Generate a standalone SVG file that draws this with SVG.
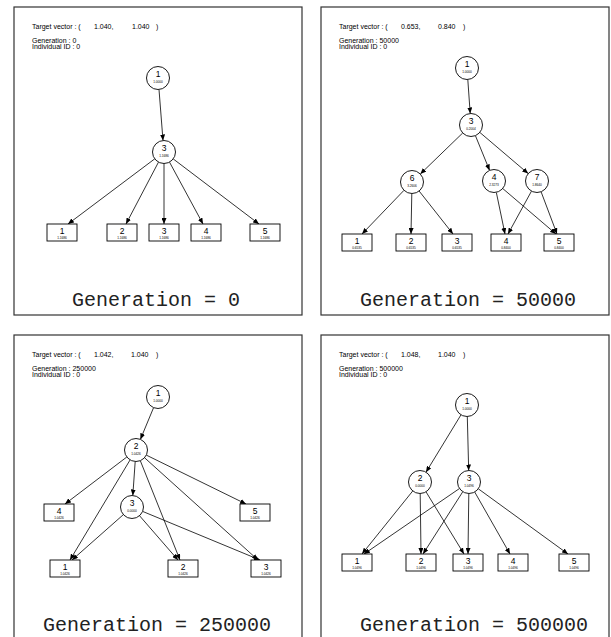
<svg xmlns="http://www.w3.org/2000/svg" width="611" height="637" viewBox="0 0 611 637">
<defs>
<marker id="ah" markerUnits="userSpaceOnUse" markerWidth="6" markerHeight="5" refX="6" refY="2.5" orient="auto">
<path d="M0,0 L6,2.5 L0,5 z" fill="#000"/>
</marker>
</defs>
<style>
.panel{fill:#fff;stroke:#333;stroke-width:1.2}
.hdr{font-family:"Liberation Sans",Arial,sans-serif;font-size:7px;fill:#000}
.gen{font-family:"Liberation Mono","Courier New",monospace;font-size:20px;fill:#222}
.nd circle{fill:#fff;stroke:#000;stroke-width:0.9}
.nd rect{fill:#fff;stroke:#000;stroke-width:0.9}
.num{font-family:"Liberation Sans",Arial,sans-serif;font-size:8.5px;text-anchor:middle;fill:#000}
.val{font-family:"Liberation Sans",Arial,sans-serif;font-size:3.2px;text-anchor:middle;fill:#000}
.edges line{stroke:#000;stroke-width:0.8;marker-end:url(#ah)}
</style>
<rect width="611" height="637" fill="#fff"/>

<!-- Panel TL -->
<g id="panel-gen0">
<rect class="panel" x="14" y="7" width="288" height="308"/>
<text class="hdr" x="32" y="28.7">Target vector : (</text>
<text class="hdr" x="94" y="28.7">1.040,</text>
<text class="hdr" x="132" y="28.7">1.040</text>
<text class="hdr" x="156" y="28.7">)</text>
<text class="hdr" x="32" y="43.3">Generation : 0</text>
<text class="hdr" x="32" y="49.3">Individual ID : 0</text>
<g class="edges" id="edges-gen0">
<line x1="159" y1="89.5" x2="163" y2="140.5"/>
<line x1="154.8" y1="158.8" x2="68" y2="224"/>
<line x1="158.5" y1="162.1" x2="126" y2="224"/>
<line x1="164" y1="163.5" x2="164" y2="224"/>
<line x1="169.5" y1="162.1" x2="203" y2="224"/>
<line x1="173.2" y1="158.9" x2="259" y2="224"/>
</g>
<g class="nd" id="g0-n1"><circle cx="158" cy="78" r="11.5"/><text class="num" x="158" y="77">1</text><text class="val" x="158" y="82.5">1.0000</text></g>
<g class="nd" id="g0-n3"><circle cx="164" cy="152" r="11.5"/><text class="num" x="164" y="151">3</text><text class="val" x="164" y="156.5">1.1686</text></g>
<g class="nd" id="g0-b1"><rect x="47" y="224" width="30" height="17"/><text class="num" x="62" y="234">1</text><text class="val" x="62" y="238.5">1.1686</text></g>
<g class="nd" id="g0-b2"><rect x="107" y="224" width="30" height="17"/><text class="num" x="122" y="234">2</text><text class="val" x="122" y="238.5">1.1686</text></g>
<g class="nd" id="g0-b3"><rect x="149" y="224" width="30" height="17"/><text class="num" x="164" y="234">3</text><text class="val" x="164" y="238.5">1.1686</text></g>
<g class="nd" id="g0-b4"><rect x="191" y="224" width="30" height="17"/><text class="num" x="206" y="234">4</text><text class="val" x="206" y="238.5">1.1686</text></g>
<g class="nd" id="g0-b5"><rect x="250" y="224" width="30" height="17"/><text class="num" x="265" y="234">5</text><text class="val" x="265" y="238.5">1.1686</text></g>
<text class="gen" x="72" y="306">Generation = 0</text>
</g>

<!-- Panel TR -->
<g id="panel-gen50000">
<rect class="panel" x="321" y="7" width="288" height="308"/>
<text class="hdr" x="339" y="28.7">Target vector : (</text>
<text class="hdr" x="401" y="28.7">0.653,</text>
<text class="hdr" x="438" y="28.7">0.840</text>
<text class="hdr" x="463" y="28.7">)</text>
<text class="hdr" x="339" y="43.3">Generation : 50000</text>
<text class="hdr" x="339" y="49.3">Individual ID : 0</text>
<g class="edges" id="edges-gen50000">
<line x1="467.8" y1="79.5" x2="470.2" y2="113.5"/>
<line x1="462.7" y1="133" x2="420.3" y2="174"/>
<line x1="475.4" y1="135.6" x2="489.6" y2="170.4"/>
<line x1="479.8" y1="132.4" x2="528.2" y2="173.6"/>
<line x1="404" y1="190.3" x2="362" y2="234"/>
<line x1="411.8" y1="193.5" x2="411" y2="234"/>
<line x1="419.1" y1="191" x2="453" y2="234"/>
<line x1="496.3" y1="192.3" x2="505" y2="234"/>
<line x1="502.7" y1="188.5" x2="556" y2="234"/>
<line x1="531.5" y1="191.1" x2="508" y2="234"/>
<line x1="541.1" y1="191.8" x2="557" y2="234"/>
</g>
<g class="nd" id="g1-n1"><circle cx="467" cy="68" r="11.5"/><text class="num" x="467" y="67">1</text><text class="val" x="467" y="72.5">1.0000</text></g>
<g class="nd" id="g1-n3"><circle cx="471" cy="125" r="11.5"/><text class="num" x="471" y="124">3</text><text class="val" x="471" y="129.5">0.2004</text></g>
<g class="nd" id="g1-n6"><circle cx="412" cy="182" r="11.5"/><text class="num" x="412" y="181">6</text><text class="val" x="412" y="186.5">3.2606</text></g>
<g class="nd" id="g1-n4"><circle cx="494" cy="181" r="11.5"/><text class="num" x="494" y="180">4</text><text class="val" x="494" y="185.5">2.3273</text></g>
<g class="nd" id="g1-n7"><circle cx="537" cy="181" r="11.5"/><text class="num" x="537" y="180">7</text><text class="val" x="537" y="185.5">1.8640</text></g>
<g class="nd" id="g1-b1"><rect x="342" y="234" width="30" height="17"/><text class="num" x="357" y="244">1</text><text class="val" x="357" y="248.5">0.6535</text></g>
<g class="nd" id="g1-b2"><rect x="396" y="234" width="30" height="17"/><text class="num" x="411" y="244">2</text><text class="val" x="411" y="248.5">0.6535</text></g>
<g class="nd" id="g1-b3"><rect x="442" y="234" width="30" height="17"/><text class="num" x="457" y="244">3</text><text class="val" x="457" y="248.5">0.6535</text></g>
<g class="nd" id="g1-b4"><rect x="491" y="234" width="30" height="17"/><text class="num" x="506" y="244">4</text><text class="val" x="506" y="248.5">0.8400</text></g>
<g class="nd" id="g1-b5"><rect x="544" y="234" width="30" height="17"/><text class="num" x="559" y="244">5</text><text class="val" x="559" y="248.5">0.8400</text></g>
<text class="gen" x="360" y="306">Generation = 50000</text>
</g>

<!-- Panel BL -->
<g id="panel-gen250000">
<rect class="panel" x="14" y="335" width="288" height="308"/>
<text class="hdr" x="32" y="356.7">Target vector : (</text>
<text class="hdr" x="94" y="356.7">1.042,</text>
<text class="hdr" x="131" y="356.7">1.040</text>
<text class="hdr" x="156" y="356.7">)</text>
<text class="hdr" x="32" y="371.3">Generation : 250000</text>
<text class="hdr" x="32" y="377.3">Individual ID : 0</text>
<g class="edges" id="edges-gen250000">
<line x1="153.6" y1="407.6" x2="140.4" y2="439.4"/>
<line x1="135.2" y1="461.5" x2="132.8" y2="495.5"/>
<line x1="126.8" y1="457" x2="65" y2="504"/>
<line x1="146.3" y1="455.1" x2="246" y2="504"/>
<line x1="130.1" y1="459.9" x2="70" y2="560"/>
<line x1="140.3" y1="460.7" x2="180" y2="560"/>
<line x1="144.5" y1="457.7" x2="258" y2="560"/>
<line x1="123.4" y1="514.6" x2="72" y2="560"/>
<line x1="139.5" y1="515.7" x2="178" y2="560"/>
<line x1="142.6" y1="511.4" x2="260" y2="560"/>
</g>
<g class="nd" id="g2-n1"><circle cx="158" cy="397" r="11.5"/><text class="num" x="158" y="396">1</text><text class="val" x="158" y="401.5">1.0000</text></g>
<g class="nd" id="g2-n2"><circle cx="136" cy="450" r="11.5"/><text class="num" x="136" y="449">2</text><text class="val" x="136" y="454.5">1.0426</text></g>
<g class="nd" id="g2-n3"><circle cx="132" cy="507" r="11.5"/><text class="num" x="132" y="506">3</text><text class="val" x="132" y="511.5">0.0000</text></g>
<g class="nd" id="g2-b4"><rect x="44" y="504" width="30" height="17"/><text class="num" x="59" y="514">4</text><text class="val" x="59" y="518.5">1.0426</text></g>
<g class="nd" id="g2-b5"><rect x="240" y="504" width="30" height="17"/><text class="num" x="255" y="514">5</text><text class="val" x="255" y="518.5">1.0426</text></g>
<g class="nd" id="g2-b1"><rect x="50" y="560" width="30" height="17"/><text class="num" x="65" y="570">1</text><text class="val" x="65" y="574.5">1.0426</text></g>
<g class="nd" id="g2-b2"><rect x="168" y="560" width="30" height="17"/><text class="num" x="183" y="570">2</text><text class="val" x="183" y="574.5">1.0426</text></g>
<g class="nd" id="g2-b3"><rect x="251" y="560" width="30" height="17"/><text class="num" x="266" y="570">3</text><text class="val" x="266" y="574.5">1.0426</text></g>
<text class="gen" x="43" y="631">Generation = 250000</text>
</g>

<!-- Panel BR -->
<g id="panel-gen500000">
<rect class="panel" x="321" y="335" width="288" height="308"/>
<text class="hdr" x="339" y="356.7">Target vector : (</text>
<text class="hdr" x="401" y="356.7">1.048,</text>
<text class="hdr" x="438" y="356.7">1.040</text>
<text class="hdr" x="463" y="356.7">)</text>
<text class="hdr" x="339" y="371.3">Generation : 500000</text>
<text class="hdr" x="339" y="377.3">Individual ID : 0</text>
<g class="edges" id="edges-gen500000">
<line x1="461" y1="414.8" x2="426" y2="472.2"/>
<line x1="467.3" y1="416.5" x2="468.7" y2="470.5"/>
<line x1="412.8" y1="490.9" x2="362" y2="554"/>
<line x1="420.2" y1="493.5" x2="421" y2="554"/>
<line x1="426" y1="491.8" x2="464" y2="554"/>
<line x1="459.5" y1="488.5" x2="364" y2="554"/>
<line x1="462.8" y1="491.7" x2="423" y2="554"/>
<line x1="468.8" y1="493.5" x2="468" y2="554"/>
<line x1="474.7" y1="492" x2="510" y2="554"/>
<line x1="478.3" y1="488.8" x2="568" y2="554"/>
</g>
<g class="nd" id="g3-n1"><circle cx="467" cy="405" r="11.5"/><text class="num" x="467" y="404">1</text><text class="val" x="467" y="409.5">1.0000</text></g>
<g class="nd" id="g3-n2"><circle cx="420" cy="482" r="11.5"/><text class="num" x="420" y="481">2</text><text class="val" x="420" y="486.5">0.0000</text></g>
<g class="nd" id="g3-n3"><circle cx="469" cy="482" r="11.5"/><text class="num" x="469" y="481">3</text><text class="val" x="469" y="486.5">1.0496</text></g>
<g class="nd" id="g3-b1"><rect x="342" y="554" width="30" height="17"/><text class="num" x="357" y="564">1</text><text class="val" x="357" y="568.5">1.0496</text></g>
<g class="nd" id="g3-b2"><rect x="406" y="554" width="30" height="17"/><text class="num" x="421" y="564">2</text><text class="val" x="421" y="568.5">1.0496</text></g>
<g class="nd" id="g3-b3"><rect x="453" y="554" width="30" height="17"/><text class="num" x="468" y="564">3</text><text class="val" x="468" y="568.5">1.0496</text></g>
<g class="nd" id="g3-b4"><rect x="498" y="554" width="30" height="17"/><text class="num" x="513" y="564">4</text><text class="val" x="513" y="568.5">1.0496</text></g>
<g class="nd" id="g3-b5"><rect x="559" y="554" width="30" height="17"/><text class="num" x="574" y="564">5</text><text class="val" x="574" y="568.5">1.0496</text></g>
<text class="gen" x="360" y="631">Generation = 500000</text>
</g>
</svg>
